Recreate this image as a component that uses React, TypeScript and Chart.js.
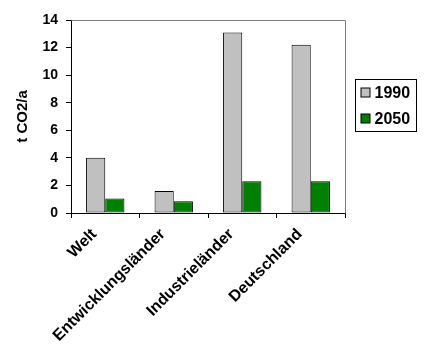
import React, { useEffect, useRef } from "react";
import { Chart, registerables } from "chart.js";

Chart.register(...registerables);

const categories = ["Welt", "Entwicklungsländer", "Industrieländer", "Deutschland"];
const series1990 = [4.0, 1.6, 13.1, 12.2];
const series2050 = [1.05, 0.85, 2.3, 2.3];
const seriesLabels = ["1990", "2050"];
const yTicks = [0, 2, 4, 6, 8, 10, 12, 14];
const yTitle = "t CO2/a";

const FONT = "'Liberation Sans', Arial, sans-serif";

const frameAndLegend = {
  id: "frameAndLegend",
  afterDraw(chart: any) {
    const { ctx, chartArea } = chart;
    ctx.save();
    // gray top and right frame
    ctx.strokeStyle = "#808080";
    ctx.lineWidth = 1;
    ctx.beginPath();
    ctx.moveTo(Math.round(chartArea.left) + 0.5, Math.round(chartArea.top) + 0.5);
    ctx.lineTo(Math.round(chartArea.right) + 0.5, Math.round(chartArea.top) + 0.5);
    ctx.lineTo(Math.round(chartArea.right) + 0.5, Math.round(chartArea.bottom) + 0.5);
    ctx.stroke();

    // legend box
    const bx = Math.round(chartArea.right) + 10.5;
    const by = 79.5;
    const bw = 61;
    const bh = 52;
    ctx.fillStyle = "#ffffff";
    ctx.fillRect(bx, by, bw, bh);
    ctx.strokeStyle = "#000000";
    ctx.strokeRect(bx, by, bw, bh);
    ctx.font = "bold 16px " + FONT;
    ctx.textBaseline = "middle";
    ctx.textAlign = "left";
    chart.data.datasets.forEach((ds: any, i: number) => {
      const cy = by + 13 + i * 26;
      ctx.fillStyle = ds.backgroundColor;
      ctx.fillRect(bx + 5.5, cy - 4.5, 9, 9);
      ctx.strokeStyle = "#000000";
      ctx.strokeRect(bx + 5.5, cy - 4.5, 9, 9);
      ctx.fillStyle = "#000000";
      ctx.fillText(ds.label, bx + 19, cy + 1);
    });
    ctx.restore();
  },
};

export default function App() {
  const ref = useRef<HTMLCanvasElement>(null);
  useEffect(() => {
    if (!ref.current) return;
    const chart = new Chart(ref.current, {
      type: "bar",
      data: {
        labels: categories,
        datasets: [
          {
            label: seriesLabels[0],
            data: series1990,
            backgroundColor: "#C0C0C0",
            borderColor: "#000000",
            borderWidth: 1,
            borderSkipped: false,
            barPercentage: 1,
            categoryPercentage: 0.56,
          },
          {
            label: seriesLabels[1],
            data: series2050,
            backgroundColor: "#008000",
            borderColor: "#000000",
            borderWidth: 1,
            borderSkipped: false,
            barPercentage: 1,
            categoryPercentage: 0.56,
          },
        ],
      },
      options: {
        animation: false,
        responsive: true,
        maintainAspectRatio: false,
        layout: { padding: { top: 20, right: 83, left: 0, bottom: 0 } },
        plugins: {
          legend: { display: false },
          tooltip: { enabled: false },
        },
        scales: {
          x: {
            afterFit: (scale: any) => {
              scale.height = 147;
            },
            border: { display: true, color: "#000000", width: 1 },
            grid: {
              offset: true,
              drawOnChartArea: false,
              drawTicks: true,
              tickLength: 5,
              color: "#000000",
            },
            ticks: {
              autoSkip: false,
              minRotation: 45,
              maxRotation: 45,
              padding: 7,
              labelOffset: -11,
              color: "#000000",
              font: { family: FONT, size: 16, weight: "bold" },
            },
          },
          y: {
            min: 0,
            max: 14,
            afterFit: (scale: any) => {
              scale.width = 71;
            },
            afterBuildTicks: (scale: any) => {
              scale.ticks = yTicks.map((v) => ({ value: v }));
            },
            border: { display: true, color: "#000000", width: 1 },
            grid: {
              drawOnChartArea: false,
              drawTicks: true,
              tickLength: 5,
              color: "#000000",
            },
            ticks: {
              padding: 8,
              color: "#000000",
              font: { family: FONT, size: 14, weight: "bold" },
            },
            title: {
              display: true,
              text: yTitle,
              color: "#000000",
              padding: { top: 14, bottom: 0 },
              font: { family: FONT, size: 15, weight: "bold" },
            },
          },
        },
      },
      plugins: [frameAndLegend],
    });
    return () => chart.destroy();
  }, []);
  return (
    <div style={{ position: "fixed", left: 0, top: 0, width: 428, height: 360, background: "#fff" }}>
      <canvas ref={ref} />
    </div>
  );
}
